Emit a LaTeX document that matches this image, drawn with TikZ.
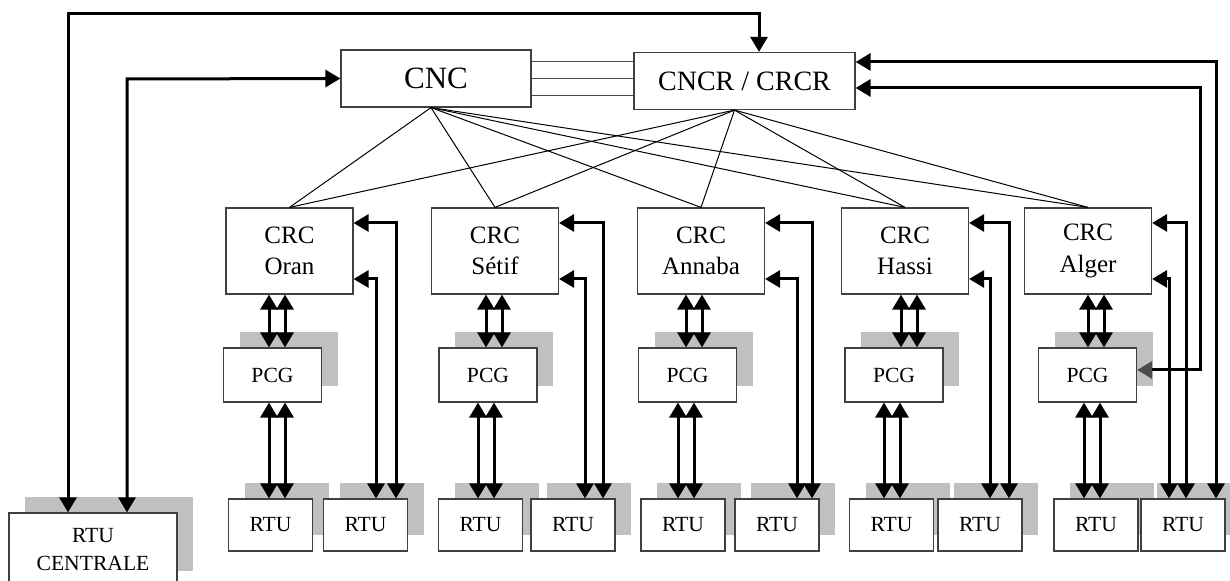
\documentclass[tikz,border=0pt]{standalone}
\usepackage{fontspec}
\setmainfont{Liberation Serif}
\usetikzlibrary{positioning,arrows.meta,shadows,calc}
\definecolor{shadowgray}{HTML}{C0C0C0}
\tikzset{line/.style={draw, line width=0.5pt},
  bus/.style={draw, line width=1.5pt, {Triangle[length=7.5pt,width=8.5pt]}-{Triangle[length=7.5pt,width=8.5pt]}},
  box/.style={draw=black!75, line width=0.6pt, fill=white, inner sep=0pt, align=center},
  boxshadow/.style={drop shadow={shadow xshift=8pt,shadow yshift=8pt,fill=shadowgray,opacity=1}},
  centre/.style={box, minimum height=28.5pt, font=\fontsize{15.5}{18}\selectfont},
  crc/.style={box, minimum width=63.5pt, minimum height=43pt, font=\fontsize{12.5}{15.8}\selectfont},
  pcg/.style={box, boxshadow, minimum width=49pt, minimum height=27pt, font=\fontsize{10.8}{13}\selectfont},
  rtu/.style={box, boxshadow, minimum width=42pt, minimum height=26pt, font=\fontsize{10.8}{13}\selectfont}}

\begin{document}
\begin{tikzpicture}[x=0.5pt,y=-0.5pt]
\useasboundingbox (0,0) rectangle (1230,581);
\node [centre, minimum width=95pt] (cnc) at (436,78.5) {CNC};
\node [centre, minimum width=110.5pt, font=\fontsize{14}{17}\selectfont] (cncr) at (744.5,81) {CNCR / CRCR};
\node [rtu, minimum width=84pt, minimum height=37pt, font=\fontsize{10.8}{14}\selectfont] (rtuc) at (93,550) {RTU\\CENTRALE};
% liaisons CNC - CNCR
\foreach \d in {-17,0,17}
  \draw[line, draw=black!70] ($(cnc.east)+(0,\d)$) -- ($(cnc.east -| cncr.west)+(0,\d)$);
% les cinq regions
\foreach \n/\lab/\cx/\px/\ra/\rb/\ua/\la/\vi/\vo in {
    oran/Oran/289.5/272.5/270.5/365.5/269/269/376/396,
    setif/Sétif/495/488/480.5/573/486/478/585/603,
    annaba/Annaba/701/687.5/683/777/686/678/797/812,
    hassi/Hassi/905/894/891.5/980/901/884/990/1009,
    alger/Alger/1088/1087.5/1096/1183/1088/1084/1169/1186} {
  \node [crc] (crc\n) at (\cx,251) {CRC\\\lab};
  \node [pcg] (pcg\n) at (\px,375) {PCG};
  \node [rtu] (rtua\n) at (\ra,525) {RTU};
  \node [rtu] (rtub\n) at (\rb,525) {RTU};
  \draw[line] ([xshift=-2.5pt]cnc.south) -- (crc\n.north);
  \draw[line] ([xshift=-5pt]cncr.south) -- (crc\n.north);
  \foreach \o in {0,16} {
    \draw[bus] ($(crc\n.south -| \ua,0)+(\o,0)$) -- ($(pcg\n.north -| \ua,0)+(\o,0)$);
    \draw[bus] ($(pcg\n.south -| \la,0)+(\o,0)$) -- ($(rtua\n.north -| \la,0)+(\o,0)$);
  }
  \draw[bus] (rtub\n.north -| \vo,0) |- ($(crc\n.east)+(0,-28)$);
  \draw[bus] (rtub\n.north -| \vi,0) |- ($(crc\n.east)+(0,28)$);
}
% RTU centrale
\coordinate (tl) at (68,14);
\coordinate (tr) at (759,14);
\coordinate (cl) at (127,79);
\draw[bus] (rtuc.north -| tl) -- (tl) -- (tr) -- (cncr.north -| tr);
\draw[bus] (rtuc.north -| cl) -- (cl) -- (cnc.west);
% retour Alger
\coordinate (ra) at (1216,62);
\coordinate (rb) at (1200,88);
\draw[bus] (rtubalger.north -| ra) -- (ra) -- (ra -| cncr.east);
\draw[bus, {Triangle[length=7.5pt,width=8.5pt,black!70]}-{Triangle[length=7.5pt,width=8.5pt]}]
  ($(pcgalger.east)+(0,-5)$) -| (rb) -- (rb -| cncr.east);
\end{tikzpicture}
\end{document}
